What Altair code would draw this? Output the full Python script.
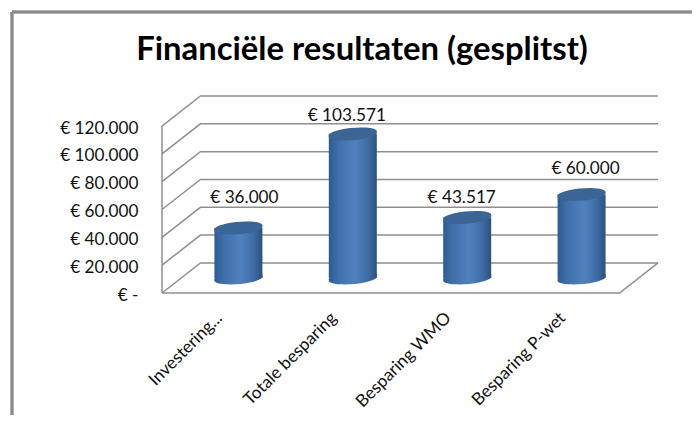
import json
import altair as alt
import pandas as pd

categories = ["Investering...", "Totale besparing", "Besparing WMO", "Besparing P-wet"]
values = [36000, 103571, 43517, 60000]
ticks = [0, 20000, 40000, 60000, 80000, 100000, 120000]

# 3D box of the chart, in axis units
DEPTH_Y = 21600
DEPTH_X = 0.336
N = len(categories)
X_MAX = N + DEPTH_X
Y_MAX = 120000 + DEPTH_Y

FONT = "Lato"
GRID = "#8f8f8f"
FS = 17.2

xs = alt.Scale(domain=[0, X_MAX], nice=False, zero=False, padding=0)
ys = alt.Scale(domain=[0, Y_MAX], nice=False, zero=False)

bars = pd.DataFrame({
    "cat": categories,
    "value": values,
    "xc": [i + 0.5 + DEPTH_X / 2 for i in range(N)],
    "base": [DEPTH_Y / 2] * N,
    "top": [v + DEPTH_Y / 2 for v in values],
    "label": ["€ " + f"{v:,}".replace(",", ".") for v in values],
})

grid_rows = []
for t in ticks:
    grid_rows += [
        {"g": t, "o": 0, "x": 0, "y": t},
        {"g": t, "o": 1, "x": DEPTH_X, "y": t + DEPTH_Y},
        {"g": t, "o": 2, "x": X_MAX, "y": t + DEPTH_Y},
    ]
grid_rows += [
    {"g": "floor", "o": 0, "x": 0, "y": 0},
    {"g": "floor", "o": 1, "x": N, "y": 0},
    {"g": "floor", "o": 2, "x": X_MAX, "y": DEPTH_Y},
    {"g": "wall", "o": 0, "x": 0, "y": 0},
    {"g": "wall", "o": 1, "x": 0, "y": 120000},
]
grid = pd.DataFrame(grid_rows)

cat_expr = json.dumps(categories)

x_axis = alt.Axis(
    values=[i + 0.5 for i in range(N)],
    labelExpr=f"{cat_expr}[datum.value - 0.5]",
    labelAngle=-45, labelAlign="right", labelBaseline="middle",
    labelFont=FONT, labelFontSize=FS, labelColor="#111111", labelPadding=22,
    labelOverlap=False, labelBound=False, labelFlush=False,
    domain=False, ticks=False, grid=False, title=None)
y_axis = alt.Axis(
    values=ticks,
    labelExpr="datum.value == 0 ? '€ -\u2007\u200a' : '€ ' + replace(format(datum.value, ','), ',', '.')",
    labelFont=FONT, labelFontSize=FS, labelColor="#111111", labelPadding=24, labelOffset=2,
    labelOverlap=False, labelBound=False, labelFlush=False,
    domain=False, ticks=False, grid=False, title=None)

lines = alt.Chart(grid).mark_line(color=GRID, strokeWidth=1.5).encode(
    x=alt.X("x:Q", scale=xs, axis=x_axis),
    y=alt.Y("y:Q", scale=ys, axis=y_axis),
    detail="g:N",
    order="o:Q",
)

body = alt.Gradient(
    gradient="linear", x1=0, x2=1, y1=0, y2=0,
    stops=[
        alt.GradientStop(offset=0, color="#2f5b8e"),
        alt.GradientStop(offset=0.2, color="#3f70aa"),
        alt.GradientStop(offset=0.55, color="#4f81bd"),
        alt.GradientStop(offset=0.8, color="#3f6ea6"),
        alt.GradientStop(offset=1, color="#2b5180"),
    ],
)
ELLIPSE = "M-24,2 A24.2,5.6 -5 1 1 24,-2 A24.2,5.6 -5 1 1 -24,2 Z"

bx = alt.X("xc:Q", scale=xs, axis=x_axis)

bottoms = alt.Chart(bars).mark_point(
    shape=ELLIPSE, size=4, filled=True, opacity=1, color=body, strokeWidth=0
).encode(x=bx, y=alt.Y("base:Q", scale=ys, axis=y_axis))

cyl = alt.Chart(bars).mark_bar(width=48, color=body).encode(
    x=bx, y=alt.Y("top:Q", scale=ys, axis=y_axis), y2="base:Q"
)

tops = alt.Chart(bars).mark_point(
    shape=ELLIPSE, size=4, filled=True, opacity=1, color="#3a6595", strokeWidth=0
).encode(x=bx, y=alt.Y("top:Q", scale=ys, axis=y_axis))

# data labels sit where they were hand-placed in the source chart
label_layers = []
for i, (ldx, ldy) in enumerate([(6, -30), (-6, -18), (-5.5, -19), (4, -26)]):
    label_layers.append(
        alt.Chart(bars.iloc[[i]]).mark_text(
            font=FONT, fontSize=FS, color="#111111", dx=ldx, dy=ldy, baseline="middle", align="center"
        ).encode(x=bx, y=alt.Y("top:Q", scale=ys, axis=y_axis), text="label:N")
    )

frame_left = alt.Chart(bars).mark_rule(color="#8a8a8a", strokeWidth=2.5).encode(
    x=alt.value(-150), y=alt.value(-84), y2=alt.value(327)
)
frame_top = alt.Chart(bars).mark_rule(color="#8a8a8a", strokeWidth=2.5).encode(
    y=alt.value(-84), x=alt.value(-150), x2=alt.value(530)
)

chart = alt.layer(frame_left, frame_top, lines, bottoms, cyl, tops, *label_layers).properties(
    width=496, height=197,
    title=alt.TitleParams(
        "Financiële resultaten (gesplitst)",
        font=FONT, fontSize=32.8, fontWeight="bold", color="#000000",
        anchor="middle", dx=-48, offset=-56,
    ),
    autosize=alt.AutoSizeParams(type="none"),
    padding={"left": 154, "top": 88, "right": 34, "bottom": 122},
    background="#ffffff",
).configure_view(stroke=None)

chart.save("out.html", embed_options={"renderer": "svg", "actions": False})
